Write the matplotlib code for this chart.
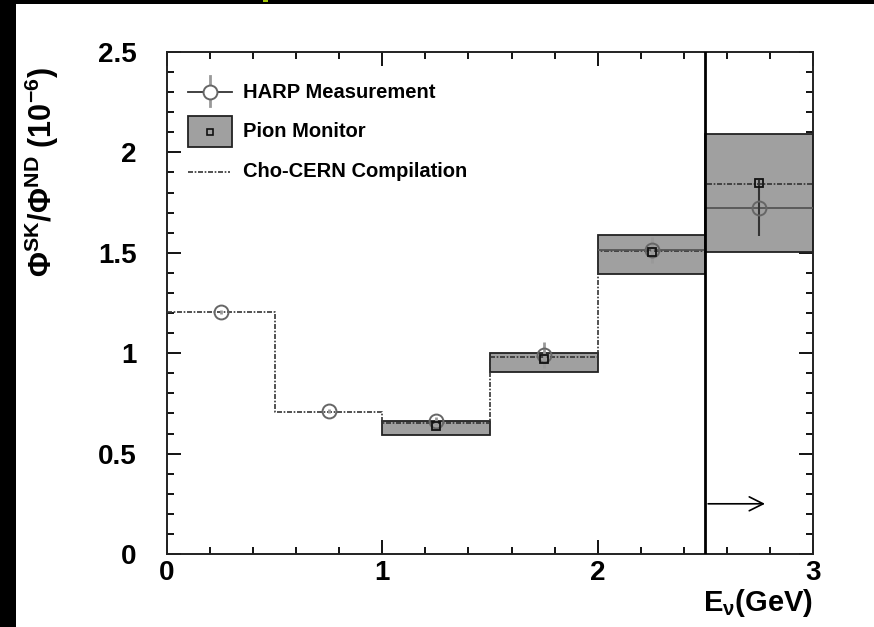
import matplotlib
matplotlib.use("Agg")
import matplotlib.pyplot as plt
from matplotlib.patches import Rectangle
from matplotlib.lines import Line2D
import numpy as np

plt.rcParams['font.family'] = ['Liberation Sans', 'DejaVu Sans']
plt.rcParams['font.weight'] = 'bold'
plt.rcParams['mathtext.fontset'] = 'custom'
plt.rcParams['mathtext.rm'] = 'Liberation Sans:bold'
plt.rcParams['mathtext.it'] = 'Liberation Sans:bold'
plt.rcParams['mathtext.bf'] = 'Liberation Sans:bold'

# energy bins (GeV)
bin_lo = [0.0, 0.5, 1.0, 1.5, 2.0, 2.5]
bin_hi = [0.5, 1.0, 1.5, 2.0, 2.5, 3.0]

# HARP measurement
harp_val = [1.205, 0.712, 0.662, 0.99, 1.515, 1.722]
harp_err = [0.01, 0.01, 0.02, 0.065, 0.065, 0.14]
harp_xerr = [0.0, 0.0, 0.0, 0.0, 0.25, 0.25]

# Pion monitor (bins 3-6)
pm_center = [1.25, 1.75, 2.25, 2.75]
pm_val = [0.637, 0.97, 1.505, 1.848]
pm_low = [0.595, 0.905, 1.395, 1.505]
pm_high = [0.66, 1.0, 1.588, 2.09]

# Cho-CERN compilation
cho_val = [1.205, 0.707, 0.652, 0.98, 1.509, 1.843]

fig = plt.figure(figsize=(8.74, 6.27), dpi=100)
ax = fig.add_axes([167 / 874, 1 - 554 / 627, 646 / 874, 502 / 627])

# gray boxes for pion monitor
for c, lo, hi in zip(pm_center, pm_low, pm_high):
    ax.add_patch(Rectangle((c - 0.25, lo), 0.5, hi - lo, facecolor='#a0a0a0',
                           edgecolor='#222222', lw=1.3, zorder=2))

# Cho-CERN step line
xs = np.array(bin_lo + [bin_hi[-1]])
ys = np.array(cho_val + [cho_val[-1]])
ax.step(xs, ys, where='post', color='#333333', lw=1.2,
        linestyle=(0, (3, 1, 1, 1)), zorder=3)

# HARP points
harp_x = [(a + b) / 2 for a, b in zip(bin_lo, bin_hi)]
ax.errorbar(harp_x, harp_val, xerr=harp_xerr, fmt='none', ecolor='#555555',
            elinewidth=1.3, zorder=4)
ax.errorbar(harp_x[:5], harp_val[:5], yerr=harp_err[:5], fmt='none',
            ecolor='#999999', elinewidth=2, zorder=4)
ax.errorbar(harp_x[5:], harp_val[5:], yerr=harp_err[5:], fmt='none',
            ecolor='#333333', elinewidth=1.5, zorder=4)
ax.plot(harp_x, harp_val, 'o', ms=10, mfc='none', mec='#666666', mew=1.4, zorder=5)

# pion monitor markers
ax.plot(pm_center, pm_val, 's', ms=6, mfc='none', mec='#111111', mew=1.3, zorder=6)

# high-energy boundary and arrow
ax.axvline(2.5, color='black', lw=2, zorder=7)
ax.annotate('', xy=(2.79, 0.25), xytext=(2.5, 0.25),
            arrowprops=dict(arrowstyle='->', color='black', lw=1.2,
                            mutation_scale=25), zorder=7)

# legend drawn by hand
T = ax.transAxes
ax.add_line(Line2D([0.0325, 0.1006], [0.920, 0.920], color='#333333', lw=1.3, transform=T))
ax.add_line(Line2D([0.0666, 0.0666], [0.892, 0.952], color='#999999', lw=2, transform=T))
ax.plot([0.0666], [0.920], 'o', ms=10, mfc='white', mec='#666666', mew=1.4, transform=T)
ax.add_patch(Rectangle((0.0325, 0.8108), 0.0681, 0.0617, facecolor='#a0a0a0',
                       edgecolor='#222222', lw=1.3, transform=T))
ax.plot([0.0666], [0.8416], 's', ms=4, mfc='none', mec='#111111', mew=1.2, transform=T)
ax.add_line(Line2D([0.0325, 0.098], [0.761, 0.761], color='#333333', lw=1.2,
                   linestyle=(0, (3, 1, 1, 1)), transform=T))
for y, lab in [(0.920, 'HARP Measurement'), (0.8416, 'Pion Monitor'),
               (0.761, 'Cho-CERN Compilation')]:
    ax.text(0.1176, y, lab, transform=T, fontsize=14.5, fontweight='bold', va='center')

ax.set_xlim(0, 3)
ax.set_ylim(0, 2.5)
ax.set_xticks([0, 1, 2, 3])
ax.set_xticks(np.arange(0, 3.01, 0.2), minor=True)
ax.set_yticks([0, 0.5, 1, 1.5, 2, 2.5])
ax.set_yticklabels(['0', '0.5', '1', '1.5', '2', '2.5'])
ax.set_yticks(np.arange(0, 2.51, 0.1), minor=True)
ax.tick_params(which='both', direction='in', top=True, right=True, width=1.3)
ax.tick_params(which='major', length=10, labelsize=20)
ax.tick_params(which='minor', length=5)
ax.tick_params(axis='x', which='major', pad=4)
ax.tick_params(axis='y', which='major', pad=22)
for lbl in ax.get_xticklabels() + ax.get_yticklabels():
    lbl.set_fontweight('bold')
for s in ax.spines.values():
    s.set_linewidth(1.4)
    s.set_color('#222222')

fig.text(42 / 874, 1 - 172 / 627, r'$\Phi^{SK}/\Phi^{ND}$ (10$^{-6}$)', fontsize=22,
         fontweight='bold', rotation=90, ha='center', va='center')
fig.text(813 / 874, 1 - 603 / 627, r'E$_{\nu}$(GeV)', fontsize=21, fontweight='bold',
         ha='right', va='center')

# black frame strips at the image edges
fig.patches.append(Rectangle((0, 0), 16 / 874, 1, transform=fig.transFigure,
                             facecolor='black', edgecolor='none', zorder=10))
fig.patches.append(Rectangle((0, 1 - 4 / 627), 1, 4 / 627, transform=fig.transFigure,
                             facecolor='black', edgecolor='none', zorder=10))
fig.patches.append(Rectangle((263 / 874, 1 - 2 / 627), 5 / 874, 2 / 627,
                             transform=fig.transFigure, facecolor='#a6c80a',
                             edgecolor='none', zorder=11))

fig.savefig('out.png', dpi=100)
